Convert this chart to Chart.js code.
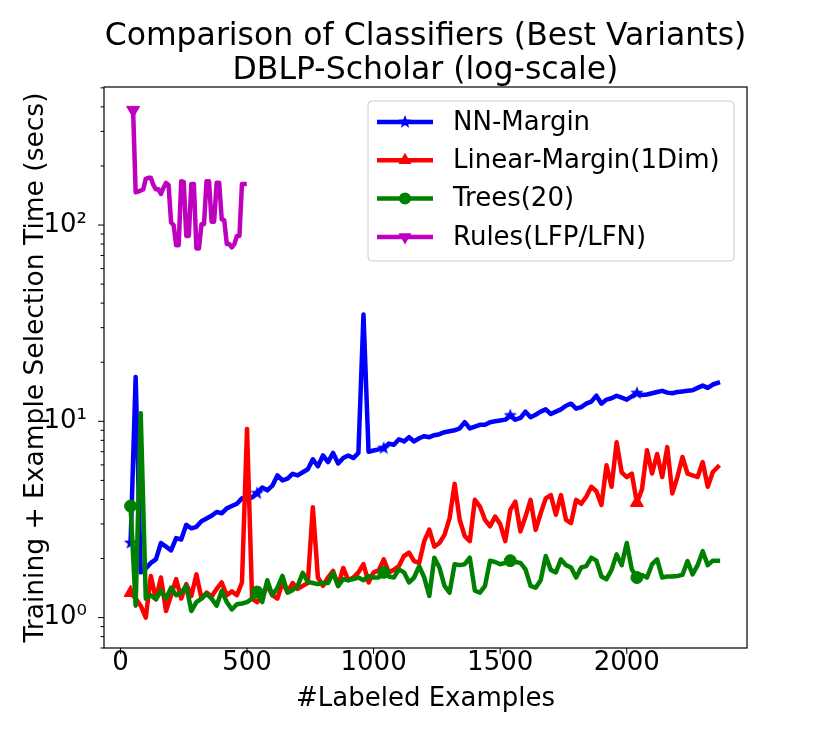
<!DOCTYPE html>
<html>
<head>
<meta charset="utf-8">
<script src="https://cdn.jsdelivr.net/npm/chart.js@4.4.0/dist/chart.umd.min.js"></script>
<style>
  html, body { margin: 0; padding: 0; background: #fff; }
  #wrap { width: 830px; height: 729px; }
</style>
</head>
<body>
<div id="wrap"><canvas id="myChart" width="830" height="729"></canvas></div>
<script>
// #Labeled examples at which each run was measured
const labeledCounts = [
  40, 60, 80, 100, 120, 140, 160, 180, 200, 220,
  240, 260, 280, 300, 320, 340, 360, 380, 400, 420,
  440, 460, 480, 500, 520, 540, 560, 580, 600, 620,
  640, 660, 680, 700, 720, 740, 760, 780, 800, 820,
  840, 860, 880, 900, 920, 940, 960, 980, 1000, 1020,
  1040, 1060, 1080, 1100, 1120, 1140, 1160, 1180, 1200, 1220,
  1240, 1260, 1280, 1300, 1320, 1340, 1360, 1380, 1400, 1420,
  1440, 1460, 1480, 1500, 1520, 1540, 1560, 1580, 1600, 1620,
  1640, 1660, 1680, 1700, 1720, 1740, 1760, 1780, 1800, 1820,
  1840, 1860, 1880, 1900, 1920, 1940, 1960, 1980, 2000, 2020,
  2040, 2060, 2080, 2100, 2120, 2140, 2160, 2180, 2200, 2220,
  2240, 2260, 2280, 2300, 2320, 2340, 2360,
];

// Rules only ran for the first few hundred examples
const rulesCounts = [
  50, 60, 70, 80, 90, 100, 110, 120, 130, 140,
  150, 160, 170, 180, 190, 200, 210, 220, 230, 240,
  250, 260, 270, 280, 290, 300, 310, 320, 330, 340,
  350, 360, 370, 380, 390, 400, 410, 420, 430, 440,
  450, 460, 470, 480, 490,
];

// times in seconds
const nnMargin = [
  2.4, 16.8, 1.7, 1.78, 1.9, 1.98, 2.4, 2.3, 2.2, 2.54,
  2.5, 2.97, 2.85, 2.9, 3.1, 3.2, 3.3, 3.45, 3.4, 3.6,
  3.7, 3.8, 4.05, 4.0, 4.1, 4.3, 4.6, 4.45, 4.7, 5.3,
  5.0, 5.1, 5.4, 5.3, 5.5, 5.7, 6.4, 5.9, 6.7, 6.2,
  6.9, 6.1, 6.5, 6.7, 6.5, 6.9, 35, 7.0, 7.1, 7.2,
  7.3, 7.7, 7.6, 8.1, 7.9, 8.3, 7.9, 8.2, 8.4, 8.3,
  8.5, 8.6, 8.8, 8.9, 9.0, 9.2, 9.9, 9.2, 9.4, 9.6,
  9.6, 9.9, 10.0, 10.1, 10.2, 10.7, 10.2, 10.4, 11.2, 10.5,
  10.8, 11.2, 11.5, 10.9, 11.2, 11.5, 12.0, 12.3, 11.6, 11.8,
  12.3, 12.6, 13.5, 12.3, 12.9, 13.1, 13.5, 13.2, 12.9, 13.4,
  13.9, 13.6, 13.7, 13.9, 14.1, 14.3, 14.0, 13.9, 14.1, 14.2,
  14.3, 14.4, 14.8, 15.2, 14.8, 15.4, 15.7,
];

const linearMargin = [
  1.34, 1.25, 1.15, 1.0, 1.63, 1.24, 1.6, 1.08, 1.3, 1.57,
  1.25, 1.48, 1.29, 1.66, 1.25, 1.34, 1.28, 1.40, 1.51, 1.3,
  1.36, 1.3, 1.51, 9.15, 1.25, 1.2, 1.3, 1.45, 1.3, 1.25,
  1.51, 1.35, 1.5, 1.4, 1.45, 1.5, 3.65, 1.6, 1.45, 1.6,
  1.73, 1.45, 1.79, 1.55, 1.6, 1.7, 1.87, 1.51, 1.7, 1.74,
  1.98, 1.7, 1.75, 1.83, 2.06, 2.14, 1.94, 1.9, 2.45, 2.81,
  2.3, 2.4, 2.64, 3.2, 4.8, 3.15, 2.6, 2.45, 3.98, 3.68,
  3.15, 2.92, 3.27, 3.0, 2.45, 3.54, 3.9, 2.75, 3.27, 3.98,
  2.8, 3.4, 4.05, 4.21, 3.34, 4.21, 3.15, 3.03, 3.98, 3.8,
  4.13, 4.64, 4.4, 3.75, 5.97, 4.64, 7.82, 5.5, 5.2, 5.42,
  3.85, 4.5, 7.12, 5.42, 6.82, 5.2, 7.39, 4.29, 5.2, 6.58,
  5.42, 5.3, 5.2, 6.2, 4.64, 5.52, 5.86,
];

const trees20 = [
  3.7, 1.15, 11.0, 1.25, 1.3, 1.24, 1.37, 1.25, 1.42, 1.3,
  1.34, 1.45, 1.08, 1.2, 1.25, 1.32, 1.25, 1.15, 1.37, 1.2,
  1.1, 1.17, 1.18, 1.2, 1.25, 1.35, 1.2, 1.55, 1.3, 1.42,
  1.63, 1.34, 1.38, 1.45, 1.69, 1.52, 1.5, 1.48, 1.5, 1.5,
  1.69, 1.45, 1.57, 1.55, 1.57, 1.6, 1.55, 1.63, 1.6, 1.6,
  1.7, 1.62, 1.6, 1.76, 1.7, 1.51, 1.6, 1.83, 1.6, 1.29,
  2.02, 1.8, 1.45, 1.34, 1.87, 1.85, 1.87, 2.02, 1.37, 1.34,
  1.45, 1.95, 1.92, 1.87, 1.9, 1.95, 1.92, 1.9, 1.76, 1.45,
  1.42, 1.55, 2.06, 1.75, 1.7, 1.98, 1.85, 1.8, 1.6, 1.8,
  1.83, 2.02, 1.95, 1.62, 1.57, 1.75, 2.1, 1.85, 2.4, 1.76,
  1.6, 1.65, 1.6, 1.87, 1.98, 1.6, 1.62, 1.62, 1.63, 1.65,
  1.94, 1.66, 1.85, 2.18, 1.85, 1.95, 1.95,
];

const rulesLfpLfn = [
  385, 147, 148, 150, 152, 172, 174, 174, 160, 152,
  152, 144, 155, 164, 160, 103, 100, 79, 79, 167,
  166, 88, 88, 162, 162, 76, 76, 101, 101, 167,
  167, 104, 104, 164, 164, 107, 106, 80, 80, 77,
  80, 88, 88, 162, 162,
];

const xTicks = [0, 500, 1000, 1500, 2000];
const yTicks = [1, 10, 100];
const superscripts = { 0: "\u2070", 1: "\u00B9", 2: "\u00B2" };

const FONT = "'DejaVu Sans', 'Liberation Sans', sans-serif";
Chart.defaults.font.family = FONT;
Chart.defaults.color = "#000";

function toPoints(xs, ys) {
  return xs.map((x, i) => ({ x: x, y: ys[i] }));
}

// filled five pointed star (matplotlib "*")
function makeStar(color, r) {
  const c = document.createElement("canvas");
  c.width = c.height = 2 * r + 2;
  const g = c.getContext("2d");
  g.fillStyle = color;
  g.beginPath();
  for (let k = 0; k < 10; k++) {
    const rad = k % 2 ? r * 0.42 : r;
    const a = -Math.PI / 2 + (k * Math.PI) / 5;
    g.lineTo(r + 1 + rad * Math.cos(a), r + 1 + rad * Math.sin(a));
  }
  g.closePath();
  g.fill();
  return c;
}

const starImg = makeStar("#0000ff", 7);

function series(label, xs, ys, color, style, radius, rotation, every, order) {
  return {
    label: label,
    data: toPoints(xs, ys),
    borderColor: color,
    backgroundColor: color,
    borderWidth: 4.5,
    borderJoinStyle: "round",
    borderCapStyle: "square",
    tension: 0,
    pointStyle: style,
    pointRotation: rotation,
    pointBackgroundColor: color,
    pointBorderColor: color,
    pointBorderWidth: 1,
    pointRadius: (ctx) => (ctx.dataIndex % every === 0 ? radius : 0),
    pointHoverRadius: 0,
    order: order,
    markRadius: radius,
  };
}

const datasets = [
  series("NN-Margin", labeledCounts, nnMargin, "#0000ff", starImg, 7, 0, 25, 3),
  series("Linear-Margin(1Dim)", labeledCounts, linearMargin, "#ff0000", "triangle", 7.5, 0, 100, 2),
  series("Trees(20)", labeledCounts, trees20, "#008000", "circle", 6, 0, 25, 1),
  series("Rules(LFP/LFN)", rulesCounts, rulesLfpLfn, "#bf00bf", "triangle", 7.5, 180, 50, 0),
];

function drawMarker(ctx, ds, x, y) {
  ctx.save();
  ctx.fillStyle = ds.borderColor;
  if (ds.pointStyle === starImg) {
    ctx.drawImage(starImg, x - starImg.width / 2, y - starImg.height / 2);
  } else if (ds.pointStyle === "circle") {
    ctx.beginPath();
    ctx.arc(x, y, ds.markRadius, 0, Math.PI * 2);
    ctx.fill();
  } else {
    const r = ds.markRadius;
    const dir = ds.pointRotation === 180 ? -1 : 1;
    ctx.beginPath();
    ctx.moveTo(x, y - dir * r);
    ctx.lineTo(x + r * 0.866, y + dir * r * 0.5);
    ctx.lineTo(x - r * 0.866, y + dir * r * 0.5);
    ctx.closePath();
    ctx.fill();
  }
  ctx.restore();
}

// frame, tick marks, title and legend drawn the matplotlib way
const decorations = {
  id: "decorations",
  afterDatasetsDraw(chart) {
    const { ctx, chartArea: a, scales } = chart;
    ctx.save();
    ctx.strokeStyle = "#000";
    ctx.lineWidth = 1.2;
    ctx.strokeRect(a.left, a.top, a.right - a.left, a.bottom - a.top);

    ctx.beginPath();
    xTicks.forEach((v) => {
      const px = scales.x.getPixelForValue(v);
      ctx.moveTo(px, a.bottom);
      ctx.lineTo(px, a.bottom + 6);
    });
    const yMin = scales.y.min, yMax = scales.y.max;
    for (let d = 0.1; d <= 1000; d *= 10) {
      for (let m = 1; m <= 9; m++) {
        const v = d * m;
        if (v < yMin || v > yMax) continue;
        const py = scales.y.getPixelForValue(v);
        const len = m === 1 ? 6 : 3.5;
        ctx.moveTo(a.left, py);
        ctx.lineTo(a.left - len, py);
      }
    }
    ctx.lineWidth = 1;
    ctx.stroke();
    ctx.restore();
  },
  afterDraw(chart) {
    const { ctx, chartArea: a } = chart;
    const cx = (a.left + a.right) / 2;
    ctx.save();
    ctx.fillStyle = "#000";
    ctx.textAlign = "center";
    ctx.textBaseline = "alphabetic";
    ctx.font = "31.5px " + FONT;
    ctx.fillText("Comparison of Classifiers (Best Variants)", cx, 45);
    ctx.fillText("DBLP-Scholar (log-scale)", cx, 79);

    // legend
    const box = { x: a.right - 13 - 366, y: a.top + 14, w: 366, h: 160 };
    ctx.beginPath();
    ctx.roundRect(box.x, box.y, box.w, box.h, 4);
    ctx.fillStyle = "rgba(255,255,255,0.8)";
    ctx.fill();
    ctx.strokeStyle = "#cccccc";
    ctx.lineWidth = 1;
    ctx.stroke();

    ctx.font = "26px " + FONT;
    ctx.textAlign = "left";
    ctx.textBaseline = "middle";
    chart.data.datasets.forEach((ds, i) => {
      const y = box.y + 21 + i * 38.3;
      ctx.beginPath();
      ctx.moveTo(box.x + 9, y);
      ctx.lineTo(box.x + 65, y);
      ctx.strokeStyle = ds.borderColor;
      ctx.lineWidth = 4.5;
      ctx.stroke();
      drawMarker(ctx, ds, box.x + 37, y);
      ctx.fillStyle = "#000";
      ctx.fillText(ds.label, box.x + 85, y + 1);
    });
    ctx.restore();
  },
};

new Chart(document.getElementById("myChart"), {
  type: "line",
  data: { datasets: datasets },
  options: {
    responsive: false,
    animation: false,
    devicePixelRatio: 1,
    layout: { padding: { left: 0, right: 83, top: 87, bottom: 0 } },
    plugins: {
      legend: { display: false },
      title: { display: false },
      tooltip: { enabled: false },
    },
    scales: {
      x: {
        type: "linear",
        min: -65,
        max: 2475,
        grid: { display: false },
        border: { display: false },
        afterBuildTicks: (scale) => {
          scale.ticks = xTicks.map((v) => ({ value: v }));
        },
        afterFit: (scale) => {
          scale.height = 81;
        },
        ticks: {
          font: { size: 26 },
          padding: -8,
          maxRotation: 0,
          callback: (v) => String(v),
        },
        title: {
          display: true,
          text: "#Labeled Examples",
          font: { size: 26 },
          padding: { top: 0, bottom: 14 },
        },
      },
      y: {
        type: "logarithmic",
        min: 0.742,
        max: 505,
        grid: { display: false },
        border: { display: false },
        afterBuildTicks: (scale) => {
          scale.ticks = yTicks.map((v) => ({ value: v }));
        },
        afterFit: (scale) => {
          scale.width = 104;
        },
        ticks: {
          font: { size: 26 },
          padding: 9,
          callback: (v) => "10" + superscripts[Math.round(Math.log10(v))],
        },
        title: {
          display: true,
          text: "Training + Example Selection Time (secs)",
          font: { size: 26.5 },
          padding: { top: 20, bottom: 0 },
        },
      },
    },
  },
  plugins: [decorations],
});
</script>
</body>
</html>
